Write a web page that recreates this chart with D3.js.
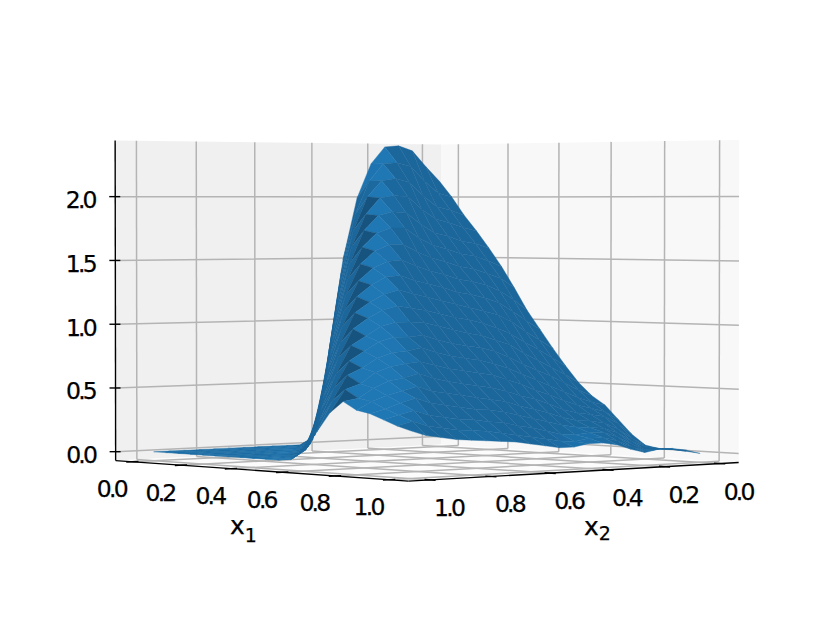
<!DOCTYPE html>
<html>
<head>
<meta charset="utf-8">
<script src="https://d3js.org/d3.v7.min.js"></script>
<style>
body { margin: 0; background: #fff; }
text { font-family: "DejaVu Sans"; fill: #000; stroke: #000; stroke-width: 0.25; }
</style>
</head>
<body>
<svg id="chart" width="830" height="620"></svg>
<script>
'use strict';

var x1Ticks = [0, 0.2, 0.4, 0.6, 0.8, 1];
var x2Ticks = [0, 0.2, 0.4, 0.6, 0.8, 1];
var zTicks = [0, 0.5, 1, 1.5, 2];
var x1Labels = ['0.0', '0.2', '0.4', '0.6', '0.8', '1.0'];
var x2Labels = ['0.0', '0.2', '0.4', '0.6', '0.8', '1.0'];
var zLabels = ['0.0', '0.5', '1.0', '1.5', '2.0'];

var x1Grid = [0, 0.05, 0.1, 0.15, 0.2, 0.25, 0.3, 0.35, 0.4, 0.45, 0.5, 0.55, 0.6, 0.65, 0.7, 0.75, 0.8, 0.85, 0.9, 0.95, 1];
var x2Grid = [1, 0.95, 0.9, 0.85, 0.8, 0.75, 0.7, 0.65, 0.6, 0.55, 0.5, 0.45, 0.4, 0.35, 0.3, 0.25, 0.2, 0.15, 0.1, 0.05, 0];

// one row per x2Grid value, one column per x1Grid value
var density = [
    [0, 0, 0, 0, 0, 0, 0, 0, 0, 0, 0, 0.01, 0.08, 0.23, 0.38, 0.47, 0.41, 0.39, 0.35, 0.31, 0.28],
    [0, 0, 0, 0, 0, 0, 0, 0, 0, 0, 0.01, 0.08, 0.3, 0.46, 0.55, 0.49, 0.47, 0.42, 0.38, 0.34, 0.24],
    [0, 0, 0, 0, 0, 0, 0, 0, 0, 0.01, 0.09, 0.38, 0.55, 0.65, 0.59, 0.56, 0.51, 0.46, 0.41, 0.3, 0.22],
    [0, 0, 0, 0, 0, 0, 0, 0, 0.01, 0.1, 0.46, 0.65, 0.75, 0.7, 0.67, 0.61, 0.54, 0.49, 0.37, 0.28, 0.2],
    [0, 0, 0, 0, 0, 0, 0, 0.02, 0.12, 0.55, 0.76, 0.86, 0.82, 0.77, 0.71, 0.63, 0.57, 0.45, 0.35, 0.26, 0.19],
    [0, 0, 0, 0, 0, 0, 0.02, 0.15, 0.65, 0.87, 0.98, 0.93, 0.89, 0.81, 0.73, 0.66, 0.53, 0.43, 0.33, 0.25, 0.18],
    [0, 0, 0, 0, 0, 0.03, 0.2, 0.75, 0.99, 1.1, 1.06, 1, 0.92, 0.82, 0.74, 0.62, 0.51, 0.41, 0.32, 0.24, 0.17],
    [0, 0, 0, 0, 0.03, 0.27, 0.85, 1.11, 1.22, 1.18, 1.12, 1.03, 0.92, 0.84, 0.71, 0.59, 0.49, 0.39, 0.3, 0.22, 0.16],
    [0, 0, 0, 0.04, 0.35, 0.95, 1.23, 1.34, 1.31, 1.24, 1.15, 1.03, 0.93, 0.8, 0.68, 0.57, 0.47, 0.38, 0.29, 0.2, 0.14],
    [0, 0, 0.05, 0.44, 1.06, 1.35, 1.47, 1.44, 1.37, 1.27, 1.13, 1.02, 0.89, 0.77, 0.66, 0.55, 0.45, 0.36, 0.26, 0.18, 0.12],
    [0, 0.06, 0.55, 1.16, 1.47, 1.6, 1.57, 1.49, 1.38, 1.24, 1.11, 0.99, 0.86, 0.75, 0.64, 0.53, 0.43, 0.33, 0.24, 0.16, 0.1],
    [0.07, 0.65, 1.27, 1.6, 1.73, 1.71, 1.62, 1.5, 1.34, 1.21, 1.08, 0.96, 0.84, 0.73, 0.62, 0.5, 0.39, 0.3, 0.21, 0.14, 0.1],
    [0.75, 1.38, 1.73, 1.86, 1.85, 1.75, 1.62, 1.45, 1.31, 1.18, 1.05, 0.93, 0.82, 0.7, 0.58, 0.46, 0.36, 0.27, 0.18, 0.13, 0.12],
    [1.49, 1.86, 2, 1.99, 1.88, 1.75, 1.56, 1.41, 1.28, 1.15, 1.03, 0.91, 0.79, 0.66, 0.54, 0.43, 0.33, 0.24, 0.17, 0.15, 0.12],
    [1.99, 2.13, 2.13, 2.01, 1.87, 1.67, 1.51, 1.38, 1.24, 1.12, 1, 0.87, 0.74, 0.61, 0.49, 0.39, 0.29, 0.22, 0.18, 0.15, 0.1],
    [2.27, 2.27, 2.15, 2, 1.78, 1.61, 1.48, 1.34, 1.22, 1.09, 0.96, 0.83, 0.68, 0.56, 0.45, 0.34, 0.26, 0.21, 0.18, 0.12, 0.06],
    [2.41, 2.28, 2.12, 1.9, 1.71, 1.58, 1.44, 1.32, 1.19, 1.06, 0.91, 0.76, 0.63, 0.51, 0.4, 0.31, 0.25, 0.2, 0.14, 0.07, 0.03],
    [2.42, 2.25, 2.01, 1.82, 1.68, 1.54, 1.42, 1.29, 1.15, 1, 0.84, 0.7, 0.58, 0.46, 0.36, 0.29, 0.23, 0.16, 0.08, 0.03, 0.05],
    [2.38, 2.13, 1.92, 1.79, 1.64, 1.52, 1.38, 1.24, 1.08, 0.92, 0.78, 0.64, 0.52, 0.41, 0.33, 0.27, 0.18, 0.09, 0.03, 0.04, 0.05],
    [2.25, 2.03, 1.89, 1.75, 1.62, 1.48, 1.34, 1.17, 1, 0.85, 0.71, 0.58, 0.46, 0.37, 0.3, 0.21, 0.1, 0.04, 0.03, 0.03, 0.03],
    [2.13, 2, 1.85, 1.72, 1.58, 1.43, 1.26, 1.08, 0.93, 0.78, 0.64, 0.51, 0.41, 0.34, 0.23, 0.12, 0.04, 0.02, 0.02, 0.01, 0]
];

var X_MIN = -0.07, X_MAX = 1.07;
var Z_MIN = -0.07, Z_MAX = 2.44;

var svg = d3.select('#chart');

// data to box coordinates
var x1Scale = d3.scaleLinear().domain([X_MIN, X_MAX]).range([-0.5, 0.5]);
var x2Scale = d3.scaleLinear().domain([X_MIN, X_MAX]).range([-0.5, 0.5]);
var zScale = d3.scaleLinear().domain([Z_MIN, Z_MAX]).range([-0.364, 0.364]);

// camera space to pixels
var xPixel = d3.scaleLinear().domain([-1, 1]).range([426 - 441.5, 426 + 441.5]);
var yPixel = d3.scaleLinear().domain([-1, 1]).range([301 + 441.5, 301 - 441.5]);

var SIN_A = Math.sin(48 * Math.PI / 180), COS_A = Math.cos(48 * Math.PI / 180);
var SIN_E = 0.022, COS_E = Math.sqrt(1 - SIN_E * SIN_E);
var DIST = 10;

function depth(x1, x2) {
    return SIN_A * x1Scale(x1) + COS_A * x2Scale(x2);
}

function project(x1, x2, z) {
    var u = x1Scale(x1), v = x2Scale(x2), w = zScale(z);
    var d = SIN_A * u + COS_A * v;
    var p = DIST / (DIST - (d * COS_E + w * SIN_E));
    return [xPixel((COS_A * u - SIN_A * v) * p), yPixel((w * COS_E - d * SIN_E) * p)];
}

function polygon(points) {
    return 'M' + points.map(function (d) { return d.join(','); }).join('L') + 'Z';
}

// panes
svg.append('path').attr('fill', '#f0f0f0')
    .attr('d', polygon([project(X_MIN, X_MIN, Z_MIN), project(X_MIN, X_MAX, Z_MIN), project(X_MIN, X_MAX, Z_MAX), project(X_MIN, X_MIN, Z_MAX)]));
svg.append('path').attr('fill', '#f8f8f8')
    .attr('d', polygon([project(X_MIN, X_MIN, Z_MIN), project(X_MAX, X_MIN, Z_MIN), project(X_MAX, X_MIN, Z_MAX), project(X_MIN, X_MIN, Z_MAX)]));
svg.append('path').attr('fill', '#fcfcfc')
    .attr('d', polygon([project(X_MIN, X_MIN, Z_MIN), project(X_MAX, X_MIN, Z_MIN), project(X_MAX, X_MAX, Z_MIN), project(X_MIN, X_MAX, Z_MIN)]));

// grid lines: each is a polyline of box points
var gridLines = [];
x2Ticks.forEach(function (t) {
    gridLines.push([[X_MIN, t, Z_MIN], [X_MIN, t, Z_MAX]]);
    gridLines.push([[X_MIN, t, Z_MIN], [X_MAX, t, Z_MIN]]);
});
x1Ticks.forEach(function (t) {
    gridLines.push([[t, X_MIN, Z_MIN], [t, X_MIN, Z_MAX]]);
    gridLines.push([[t, X_MIN, Z_MIN], [t, X_MAX, Z_MIN]]);
});
zTicks.forEach(function (t) {
    gridLines.push([[X_MIN, X_MAX, t], [X_MIN, X_MIN, t], [X_MAX, X_MIN, t]]);
});

svg.append('g').selectAll('path').data(gridLines).enter().append('path')
    .attr('fill', 'none').attr('stroke', '#b4b4b4').attr('stroke-width', 1.5)
    .attr('d', function (d) {
        return 'M' + d.map(function (q) { return project(q[0], q[1], q[2]).join(','); }).join('L');
    });

// axis lines
var axisLines = [
    [[X_MIN, X_MAX, Z_MIN], [X_MIN, X_MAX, Z_MAX]],
    [[X_MIN, X_MAX, Z_MIN], [X_MAX, X_MAX, Z_MIN]],
    [[X_MAX, X_MAX, Z_MIN], [X_MAX, X_MIN, Z_MIN]]
];
x1Ticks.forEach(function (t) {
    axisLines.push([[t, X_MAX - 0.02, Z_MIN], [t, X_MAX + 0.02, Z_MIN]]);
});
x2Ticks.forEach(function (t) {
    axisLines.push([[X_MAX - 0.02, t, Z_MIN], [X_MAX + 0.02, t, Z_MIN]]);
});

svg.append('g').selectAll('path').data(axisLines).enter().append('path')
    .attr('fill', 'none').attr('stroke', '#000').attr('stroke-width', 1.4)
    .attr('d', function (d) {
        return 'M' + project(d[0][0], d[0][1], d[0][2]).join(',') + 'L' + project(d[1][0], d[1][1], d[1][2]).join(',');
    });

svg.append('g').selectAll('line').data(zTicks).enter().append('line')
    .attr('stroke', '#000').attr('stroke-width', 1.4)
    .attr('x1', function (t) { return project(X_MIN, X_MAX, t)[0] - 6; })
    .attr('x2', function (t) { return project(X_MIN, X_MAX, t)[0] + 5; })
    .attr('y1', function (t) { return project(X_MIN, X_MAX, t)[1]; })
    .attr('y2', function (t) { return project(X_MIN, X_MAX, t)[1]; });

// surface cells, far ones first
var LIGHT = [-0.25, 0.5, 0.83];
var base = d3.rgb('#1f77b4');
var cells = [];

d3.range(x2Grid.length - 1).forEach(function (r) {
    d3.range(x1Grid.length - 1).forEach(function (c) {
        cells.push({ r: r, c: c, d: depth((x1Grid[c] + x1Grid[c + 1]) / 2, (x2Grid[r] + x2Grid[r + 1]) / 2) });
    });
});
cells.sort(function (p, q) { return p.d - q.d; });

function cellCorners(cell) {
    var r = cell.r, c = cell.c;
    return [[r, c], [r, c + 1], [r + 1, c + 1], [r + 1, c]].map(function (q) {
        return project(x1Grid[q[1]], x2Grid[q[0]], density[q[0]][q[1]]);
    });
}

function shade(cell) {
    var last = x1Grid.length - 1;
    var r = cell.r, c = cell.c;
    var c0 = Math.max(c - 1, 0), c1 = Math.min(c + 2, last);
    var r0 = Math.max(r - 1, 0), r1 = Math.min(r + 2, last);
    // slope over a few cells so that the colour stays smooth
    var gu = (zScale(density[r][c1]) + zScale(density[r + 1][c1]) - zScale(density[r][c0]) - zScale(density[r + 1][c0])) /
        (2 * (x1Scale(x1Grid[c1]) - x1Scale(x1Grid[c0])));
    var gv = (zScale(density[r0][c]) + zScale(density[r0][c + 1]) - zScale(density[r1][c]) - zScale(density[r1][c + 1])) /
        (2 * (x2Scale(x2Grid[r0]) - x2Scale(x2Grid[r1])));
    var len = Math.sqrt(gu * gu + gv * gv + 1);
    var nx = (-COS_A * gu + SIN_A * gv) / len;
    var nd = (-SIN_A * gu - COS_A * gv) / len;
    var dot = LIGHT[0] * nx + LIGHT[1] * nd + LIGHT[2] / len;
    var k = Math.min(1, Math.max(0.86, 1 - (0.92 - dot) * 0.9));
    // the fold at the top of a steep rise stays dark
    var rise = density[r][c + 1] - density[r][c];
    var next = density[r + 1][c + 1] - density[r + 1][c];
    if (rise > 0.05 && next < 0 && rise - next > 0.1) k = 0.7;
    return d3.rgb(base.r * k, base.g * k, base.b * k).formatHex();
}

svg.append('g').selectAll('path').data(cells).enter().append('path')
    .attr('d', function (d) { return polygon(cellCorners(d)); })
    .attr('fill', shade)
    .attr('stroke', shade)
    .attr('stroke-width', 0.4)
    .attr('stroke-linejoin', 'round');

// tick labels
var FONT = 23.5;

function tickText(data, labels, pos) {
    svg.append('g').selectAll('text').data(data).enter().append('text')
        .attr('text-anchor', 'middle')
        .attr('font-size', FONT)
        .attr('letter-spacing', -2.8)
        .attr('x', function (t) { return pos(t)[0]; })
        .attr('y', function (t) { return pos(t)[1] + 8.5; })
        .text(function (t, i) { return labels[i]; });
}

tickText(x1Ticks, x1Labels, function (t) {
    var p = project(t, X_MAX, Z_MIN);
    return [p[0] - 21, p[1] + 27];
});
tickText(x2Ticks, x2Labels, function (t) {
    var p = project(X_MAX, t, Z_MIN);
    return [p[0] + 18.5, p[1] + 27.5];
});
tickText(zTicks, zLabels, function (t) {
    var p = project(X_MIN, X_MAX, t);
    return [p[0] - 35, p[1] + 3];
});

// axis titles
function axisTitle(x, y, sub, drop) {
    var t = svg.append('text').attr('x', x).attr('y', y).attr('font-size', 25);
    t.append('tspan').text('x');
    t.append('tspan').attr('font-size', 19).attr('dy', drop).text(sub);
}

axisTitle(230, 534, '1', 8);
axisTitle(584, 535, '2', 5);
</script>
</body>
</html>
